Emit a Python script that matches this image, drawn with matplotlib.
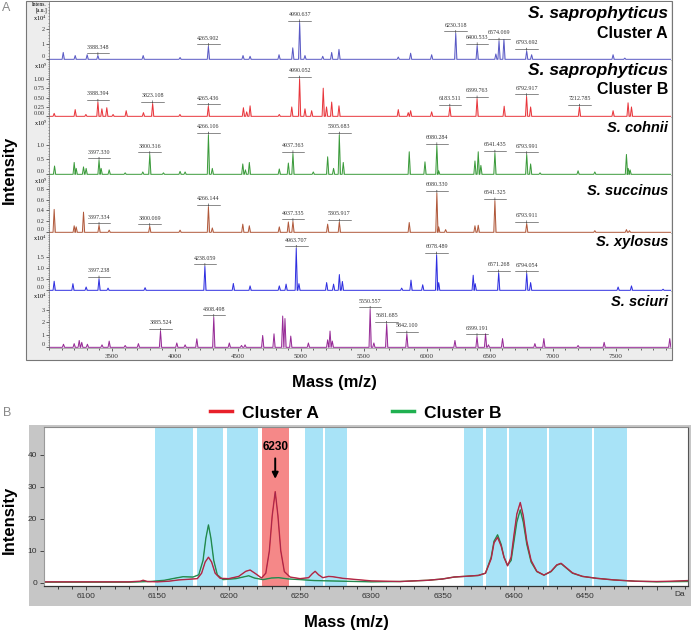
import matplotlib.pyplot as plt
import numpy as np
from matplotlib.patches import Rectangle
from matplotlib.lines import Line2D
from matplotlib.ticker import MultipleLocator

# ---------------- panel A: peak lists (m/z, intensity in axis units) ----------------
sap_a_mz = [3113, 3208, 3303, 3388.348, 3748, 4041, 4265.902, 4541, 4597, 4827,
            4936, 4990.637, 5033, 5174, 5245, 5303, 5774, 5872, 6039, 6230.318,
            6400.533, 6549, 6574.069, 6613, 6793.692, 6833, 7480, 7573]
sap_a_int = [0.45, 0.25, 0.3, 0.25, 0.25, 0.12, 0.85, 0.25, 0.2, 0.3,
             0.75, 2.4, 0.25, 0.2, 0.45, 0.65, 0.15, 0.4, 0.3, 1.7,
             0.9, 0.35, 1.2, 1.3, 0.55, 0.3, 0.3, 0.08]
sap_a_lab = [3388.348, 4265.902, 4990.637, 6230.318, 6400.533, 6574.069, 6793.692]

sap_b_mz = [3041, 3208, 3293, 3388.394, 3420, 3459, 3509, 3613, 3750, 3823.108,
            4040, 4265.436, 4544, 4570, 4597, 4829, 4928, 4990.052, 5033, 5086,
            5178, 5204, 5245, 5303, 5774, 5853, 5872, 6039, 6183.511, 6399.763,
            6615, 6792.917, 6825, 7212.785, 7480, 7599, 7626]
sap_b_int = [0.08, 0.18, 0.05, 0.38, 0.2, 0.23, 0.05, 0.15, 0.1, 0.34,
             0.05, 0.27, 0.23, 0.12, 0.28, 0.05, 0.25, 1.0, 0.2, 0.15,
             0.75, 0.25, 0.38, 0.28, 0.18, 0.1, 0.15, 0.12, 0.25, 0.47,
             0.27, 0.53, 0.25, 0.25, 0.15, 0.36, 0.25]
sap_b_lab = [3388.394, 3823.108, 4265.436, 4990.052, 6183.511, 6399.763, 6792.917, 7212.785]

cohnii_mz = [3044, 3200, 3216, 3274, 3295, 3397.330, 3414, 3478, 3605, 3745,
             3800.316, 3909, 4041, 4081, 4266.106, 4297, 4539, 4560, 4591, 4829,
             4901, 4937.363, 5099, 5213, 5260, 5305.683, 5337, 5861, 5986, 6080.284,
             6095, 6383, 6409, 6430, 6541.435, 6793.991, 6825, 6900, 7202, 7335,
             7586, 7600, 7615]
cohnii_int = [0.28, 0.4, 0.2, 0.25, 0.2, 0.48, 0.2, 0.15, 0.05, 0.08,
              0.67, 0.05, 0.1, 0.08, 1.33, 0.2, 0.35, 0.15, 0.4, 0.18,
              0.38, 0.7, 0.08, 0.59, 0.2, 1.33, 0.4, 0.76, 0.42, 0.97,
              0.12, 0.45, 0.76, 0.3, 0.72, 0.67, 0.35, 0.05, 0.12, 0.08,
              0.67, 0.2, 0.15]
cohnii_lab = [3397.330, 3800.316, 4266.106, 4937.363, 5305.683, 6080.284, 6541.435, 6793.991]

succinus_mz = [3041, 3200, 3216, 3274, 3397.334, 3478, 3800.069, 4041, 4266.144, 4297,
               4539, 4591, 4829, 4901, 4937.335, 5213, 5305.917, 5861, 6080.330, 6095,
               6150, 6383, 6409, 6541.325, 6793.911, 7335, 7586, 7610]
succinus_int = [0.42, 0.12, 0.1, 0.37, 0.13, 0.04, 0.11, 0.04, 0.47, 0.08,
                0.15, 0.12, 0.1, 0.19, 0.2, 0.15, 0.19, 0.18, 0.72, 0.1,
                0.05, 0.12, 0.13, 0.58, 0.16, 0.03, 0.05, 0.03]
succinus_lab = [3397.334, 3800.069, 4266.144, 4937.335, 5305.917, 6080.330, 6541.325, 6793.911]

xylosus_mz = [3041, 3190, 3295, 3397.238, 3469, 3763, 4238.059, 4464, 4597, 4829,
              4883, 4963.707, 4985, 5205, 5260, 5306, 5330, 5801, 5875, 5968,
              6078.489, 6095, 6369, 6385, 6571.268, 6794.054, 6825, 7520, 7626, 7877]
xylosus_int = [0.41, 0.3, 0.15, 0.52, 0.1, 0.12, 1.08, 0.31, 0.2, 0.2,
               0.28, 1.9, 0.3, 0.35, 0.28, 0.71, 0.4, 0.1, 0.46, 0.25,
               1.6, 0.35, 0.68, 0.3, 0.79, 0.76, 0.35, 0.15, 0.2, 0.05]
xylosus_lab = [3397.238, 4238.059, 4963.707, 6078.489, 6571.268, 6794.054]

sciuri_mz = [3115, 3200, 3240, 3260, 3305, 3421, 3478, 3605, 3710, 3885.524,
             4015, 4081, 4174, 4308.498, 4432, 4529, 4557, 4697, 4787, 4856,
             4874, 4920, 5060, 5213, 5232, 5250, 5550.557, 5580, 5681.685, 5842.100,
             6224, 6399.191, 6467, 6490, 6602, 6859, 6930, 7202, 7409, 7930]
sciuri_int = [0.25, 0.3, 0.55, 0.4, 0.25, 0.2, 0.5, 0.15, 0.3, 1.3,
              0.35, 0.2, 0.68, 2.4, 0.35, 0.15, 0.2, 0.95, 1.08, 2.5,
              2.3, 0.9, 0.35, 0.6, 1.3, 0.5, 3.05, 0.35, 1.86, 1.08,
              0.55, 0.87, 1.08, 0.2, 0.7, 0.3, 0.7, 0.15, 0.4, 0.7]
sciuri_lab = [3885.524, 4308.498, 5550.557, 5681.685, 5842.100, 6399.191]

a_xticks = [3500, 4000, 4500, 5000, 5500, 6000, 6500, 7000, 7500]

# ---------------- panel B: zoomed spectra around 6230 ----------------
clA_mz = [6070, 6100, 6130, 6138, 6140, 6143, 6150, 6158, 6165, 6172, 6178, 6181, 6183.5,
          6185.8, 6188, 6190.5, 6194, 6200, 6207, 6212, 6215, 6219, 6223, 6226, 6228.5,
          6230.5, 6232.6, 6234.5, 6236.5, 6239, 6243, 6250, 6256, 6258.5, 6260.6, 6263,
          6266, 6270, 6273, 6280, 6290, 6300, 6320, 6340, 6350, 6358, 6365, 6375, 6380,
          6384, 6386, 6388.5, 6391, 6393, 6395.5, 6398, 6400, 6402, 6404.4, 6406.5, 6409,
          6412, 6416, 6421, 6426, 6430, 6433, 6437, 6441, 6448, 6458, 6470, 6485, 6500,
          6510, 6522]
clA_int = [0.3, 0.3, 0.3, 0.5, 0.8, 0.4, 0.3, 0.5, 0.9, 1.1, 1.3, 3.0, 6.5,
           8.0, 6.5, 3.0, 1.4, 1.3, 2.0, 3.6, 4.0, 2.8, 1.5, 3.0, 10.0,
           21.0, 28.5, 21.0, 10.0, 3.5, 1.8, 1.3, 1.6, 2.8, 3.6, 2.5,
           1.6, 2.0, 1.9, 1.4, 1.0, 0.6, 0.4, 0.8, 1.2, 1.8, 2.0, 2.3, 3.0,
           7.5, 12.5, 14.2, 11.5, 8.0, 5.3, 8.0, 15.0, 21.5, 25.1, 21.0, 13.0,
           7.0, 3.6, 2.4, 3.6, 5.6, 6.1, 4.6, 3.1, 2.0, 1.4, 0.9, 0.5, 0.4,
           0.5, 0.7]

clB_mz = [6070, 6100, 6130, 6145, 6155, 6163, 6168, 6175, 6179, 6182, 6184, 6185.8,
          6187.5, 6189.5, 6192, 6196, 6205, 6210, 6214, 6218, 6224, 6230, 6235, 6242,
          6250, 6260, 6280, 6300, 6320, 6340, 6350, 6358, 6365, 6375, 6380, 6384, 6386,
          6388.5, 6391, 6393, 6395.5, 6398, 6400, 6402, 6404.4, 6406.5, 6409, 6412, 6416,
          6421, 6426, 6430, 6433, 6437, 6441, 6448, 6458, 6470, 6485, 6500, 6522]
clB_int = [0.2, 0.2, 0.2, 0.4, 0.8, 1.5, 1.9, 1.8, 2.5, 7.0, 14.0, 18.1,
           14.0, 7.0, 2.5, 1.0, 1.3, 1.8, 2.2, 1.5, 1.0, 1.5, 1.6, 1.2,
           1.0, 0.7, 0.5, 0.3, 0.4, 0.8, 1.2, 1.8, 2.0, 2.3, 3.0, 8.0, 13.0,
           15.0, 12.0, 8.0, 5.5, 7.0, 13.0, 19.0, 22.8, 19.0, 12.0, 6.5, 3.5,
           2.4, 3.5, 5.5, 6.0, 4.5, 3.0, 2.0, 1.4, 0.9, 0.5, 0.3, 0.4]

blue_bands = [(6148.4, 6175.0), (6177.9, 6196.1), (6198.9, 6220.6), (6253.6, 6266.2),
              (6267.6, 6283.1), (6365.1, 6378.5), (6380.6, 6395.3), (6396.7, 6423.4),
              (6424.8, 6455.0), (6456.3, 6479.5)]
red_band = (6223.4, 6242.4)
b_peak = 6232.6

# ---------------- figure ----------------
W, H = 691, 635
plt.rcParams['font.family'] = ['Liberation Sans', 'DejaVu Sans']
plt.rcParams['mathtext.fontset'] = 'stix'
fig = plt.figure(figsize=(W / 100, H / 100), dpi=100)
XMIN_A, XMAX_A = 3000, 7940


def frac(x0, y0, x1, y1):
    # pixel box (origin top-left) -> figure-fraction rect
    return [x0 / W, 1 - y1 / H, (x1 - x0) / W, (y1 - y0) / H]


def spectrum(mz, inten, half=9.0):
    # each peak drawn as a narrow spike on a flat baseline
    xs, ys = [XMIN_A], [0.0]
    for m, h in sorted(zip(mz, inten)):
        xs += [m - half, m, m + half]
        ys += [0.0, h, 0.0]
    xs.append(XMAX_A)
    ys.append(0.0)
    return xs, ys


fig.add_artist(Rectangle((26 / W, 1 - 360 / H), 646 / W, 359 / H, transform=fig.transFigure,
                         facecolor='#ededed', edgecolor='#777777', lw=0.8, zorder=0))

# name, y (axes fraction), style, size
rows = [
    (sap_a_mz, sap_a_int, sap_a_lab, '#5858c4', 3.74, [0, 1, 2], '%d', 4,
     [('S. saprophyticus', 0.81, 'italic', 12.5), ('Cluster A', 0.46, 'normal', 11.5)]),
    (sap_b_mz, sap_b_int, sap_b_lab, '#e8343a', 1.5, [0, 0.25, 0.5, 0.75, 1.0], '%.2f', 5,
     [('S. saprophyticus', 0.81, 'italic', 12.5), ('Cluster B', 0.48, 'normal', 11.5)]),
    (cohnii_mz, cohnii_int, cohnii_lab, '#3a9a3a', 1.93, [0, 0.5, 1.0], '%.1f', 5,
     [('S. cohnii', 0.81, 'italic', 10.5)]),
    (succinus_mz, succinus_int, succinus_lab, '#b0583a', 1.05, [0, 0.2, 0.4, 0.6, 0.8], '%.1f', 5,
     [('S. succinus', 0.73, 'italic', 10.5)]),
    (xylosus_mz, xylosus_int, xylosus_lab, '#2e2ee0', 2.58, [0, 0.5, 1.0, 1.5], '%.1f', 4,
     [('S. xylosus', 0.85, 'italic', 10.5)]),
    (sciuri_mz, sciuri_int, sciuri_lab, '#962a96', 4.5, [0, 1, 2, 3], '%d', 4,
     [('S. sciuri', 0.80, 'italic', 10.5)]),
]
edges = [2, 60, 117, 175, 233, 291, 348]
peak_labels = []

for i, (mz, inten, lab, col, ymax, yt, fmt, ex, names) in enumerate(rows):
    ax = fig.add_axes(frac(49, edges[i], 671, edges[i + 1]))
    ax.set_xlim(XMIN_A, XMAX_A)
    ax.set_ylim(-0.012 * ymax, ymax)
    xs, ys = spectrum(mz, inten)
    ax.fill_between(xs, ys, color=col, alpha=0.25, lw=0)
    ax.plot(xs, ys, color=col, lw=0.7)

    ax.set_yticks(yt)
    ax.set_yticklabels([fmt % v for v in yt])
    ax.get_yticklabels()[0].set_va('bottom')   # keep the zero label inside its own strip
    ax.yaxis.set_minor_locator(MultipleLocator((yt[1] - yt[0]) / 5))
    ax.tick_params(axis='y', which='major', length=2, width=0.5, pad=1, labelsize=4.5,
                   labelfontfamily='Liberation Serif', colors='#333333')
    ax.tick_params(axis='y', which='minor', length=1, width=0.4, colors='#555555')
    for s in ['top', 'right']:
        ax.spines[s].set_visible(False)
    ax.spines['left'].set_color('#666666')
    ax.spines['left'].set_linewidth(0.5)
    ax.spines['bottom'].set_color('#999999')
    ax.spines['bottom'].set_linewidth(0.5)

    if i == len(rows) - 1:
        ax.set_xticks(a_xticks)
        ax.set_xticklabels([str(v) for v in a_xticks])
        ax.xaxis.set_minor_locator(MultipleLocator(100))
        ax.tick_params(axis='x', which='major', length=2.5, width=0.5, pad=1.5, labelsize=5,
                       labelfontfamily='Liberation Serif', colors='#333333')
        ax.tick_params(axis='x', which='minor', length=1.2, width=0.4)
    else:
        ax.tick_params(axis='x', which='both', bottom=False, labelbottom=False)

    if i == 0:
        ax.annotate('Intens.', xy=(0, 1), xycoords='axes fraction', xytext=(-1.5, 0),
                    textcoords='offset points', ha='right', va='top', fontsize=4,
                    family='Liberation Serif')
        ax.annotate('[a.u.]', xy=(0, 1), xycoords='axes fraction', xytext=(-1.5, -4.3),
                    textcoords='offset points', ha='right', va='top', fontsize=4,
                    family='Liberation Serif')
        ex_off = -8.5
    else:
        ex_off = -0.5
    ax.annotate(r'x10$^{%d}$' % ex, xy=(0, 1), xycoords='axes fraction', xytext=(-1.5, ex_off),
                textcoords='offset points', ha='right', va='top', fontsize=4.5,
                family='Liberation Serif')

    for name, yy, st, fs in names:
        ax.text(0.995, yy, name, transform=ax.transAxes, ha='right', va='center',
                fontsize=fs, fontweight='bold', style=st)

    heights = dict(zip(mz, inten))
    for m in lab:
        t = ax.annotate('%.3f' % m, xy=(m, heights[m]), xytext=(0, 4),
                        textcoords='offset points', ha='center', va='bottom',
                        fontsize=4.3, family='Liberation Serif', color='#333333',
                        arrowprops=dict(arrowstyle='-', linestyle=(0, (1, 1)), lw=0.5,
                                        color='#333333', shrinkA=0, shrinkB=0.5))
        peak_labels.append(t)

# panel B
fig.add_artist(Rectangle((29 / W, 1 - 606 / H), 662 / W, 181 / H, transform=fig.transFigure,
                         facecolor='#c6c6c6', edgecolor='none', zorder=0))
axb = fig.add_axes(frac(44, 427, 688, 586))
axb.set_xlim(6070.5, 6522)
axb.set_ylim(-1, 48.7)
for a, b in blue_bands:
    axb.axvspan(a, b, color='#a8e3f7', lw=0, zorder=0)
axb.axvspan(red_band[0], red_band[1], color='#f58888', lw=0, zorder=0)
axb.plot(clB_mz, clB_int, color='#22a35a', lw=1.0)
axb.plot(clB_mz, clB_int, color='#2f4f3a', lw=0.4, alpha=0.6)
axb.plot(clA_mz, clA_int, color='#d42838', lw=1.0)
axb.plot(clA_mz, clA_int, color='#6a2a6a', lw=0.4, alpha=0.7)

b_xt = list(range(6100, 6501, 50))
axb.set_xticks(b_xt)
axb.set_xticklabels([str(v) if v < 6500 else '' for v in b_xt])
axb.xaxis.set_minor_locator(MultipleLocator(10))
axb.set_yticks([0, 10, 20, 30, 40])
axb.tick_params(axis='both', which='major', length=3, width=0.6, labelsize=6,
                colors='#333333', pad=2)
axb.tick_params(axis='x', which='minor', length=1.8, width=0.5)
axb.spines['bottom'].set_color('#333333')
axb.spines['bottom'].set_linewidth(0.9)
axb.spines['left'].set_color('#9a9a9a')
axb.spines['top'].set_color('#8a8a8a')
axb.spines['right'].set_color('#555555')
axb.annotate('Da', xy=(1, 0), xycoords='axes fraction', xytext=(-2, -3.5),
             textcoords='offset points', ha='right', va='top', fontsize=6, color='#333333')
axb.annotate('6230', xy=(b_peak, 32.5), xytext=(b_peak, 42.5), ha='center', va='center',
             fontsize=8.5, fontweight='bold',
             arrowprops=dict(arrowstyle='-|>', color='black', lw=1.4, mutation_scale=9,
                             shrinkA=2, shrinkB=0))

handles = [Line2D([], [], color='#e8202a', lw=2.5), Line2D([], [], color='#1fb050', lw=2.5)]
fig.legend(handles, ['Cluster A', 'Cluster B'], loc='center', bbox_to_anchor=(356 / W, 1 - 413 / H),
           ncol=2, frameon=False, prop=dict(weight='bold', size=12.5), handlelength=1.25,
           handletextpad=0.6, columnspacing=4.2)

# axis titles and panel letters
fig.text(9 / W, 1 - 170 / H, 'Intensity', rotation=90, ha='center', va='center',
         fontsize=12, fontweight='bold')
fig.text(9 / W, 1 - 520 / H, 'Intensity', rotation=90, ha='center', va='center',
         fontsize=12, fontweight='bold')
fig.text(334 / W, 1 - 383 / H, 'Mass (m/z)', ha='center', va='center', fontsize=12, fontweight='bold')
fig.text(346 / W, 1 - 622 / H, 'Mass (m/z)', ha='center', va='center', fontsize=12, fontweight='bold')
fig.text(2 / W, 1 - 8 / H, 'A', ha='left', va='center', fontsize=9, color='#888888')
fig.text(3 / W, 1 - 413 / H, 'B', ha='left', va='center', fontsize=9, color='#888888')

# underline the peak labels
fig.canvas.draw()
inv = fig.transFigure.inverted()
for t in peak_labels:
    bb = t.get_window_extent()
    (x0, y0), (x1, _) = inv.transform([[bb.x0, bb.y0 + 1.3], [bb.x1, bb.y0 + 1.3]])
    fig.add_artist(Line2D([x0, x1], [y0, y0], transform=fig.transFigure, color='#333333', lw=0.4))

fig.savefig('out.png', dpi=100)
